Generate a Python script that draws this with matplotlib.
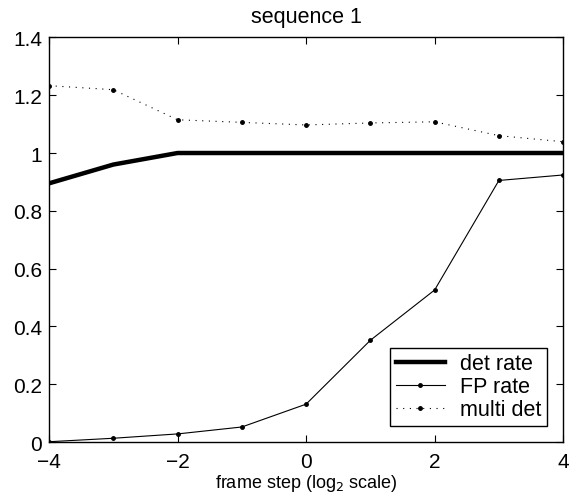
import matplotlib
matplotlib.use("Agg")
import matplotlib.pyplot as plt

# frame step on a log2 scale
steps = [-4, -3, -2, -1, 0, 1, 2, 3, 4]
det_rate = [0.895, 0.96, 1.0, 1.0, 1.0, 1.0, 1.0, 1.0, 1.0]
fp_rate = [0.001, 0.013, 0.028, 0.052, 0.131, 0.352, 0.526, 0.905, 0.924]
multi_det = [1.233, 1.219, 1.115, 1.106, 1.097, 1.104, 1.108, 1.06, 1.039]

x_ticks = [-4, -2, 0, 2, 4]
x_tick_labels = ['\u22124', '\u22122', '0', '2', '4']
y_ticks = [0, 0.2, 0.4, 0.6, 0.8, 1, 1.2, 1.4]
y_tick_labels = ['0', '0.2', '0.4', '0.6', '0.8', '1', '1.2', '1.4']


def get_picture():
    plt.rcParams['font.family'] = ['Liberation Sans', 'DejaVu Sans']
    fig = plt.figure(figsize=(5.7, 5.02), dpi=100)
    ax = fig.add_axes([0.086, 0.1175, 0.902, 0.806])

    ax.plot(steps, det_rate, color='black', linewidth=3.2, label='det rate')
    ax.plot(steps, fp_rate, color='black', linewidth=0.8, marker='o',
            markersize=2.5, label='FP rate')
    ax.plot(steps, multi_det, color='black', linewidth=0.8,
            linestyle=(0, (1, 5)), marker='o', markersize=2.5,
            label='multi det')

    ax.set_xlim(-4, 4)
    ax.set_ylim(0, 1.4)
    ax.set_xticks(x_ticks)
    ax.set_xticklabels(x_tick_labels)
    ax.set_yticks(y_ticks)
    ax.set_yticklabels(y_tick_labels)
    ax.tick_params(direction='in', top=True, right=True, labelsize=15,
                   length=5, width=0.8)
    ax.tick_params(axis='x', pad=7)
    ax.tick_params(axis='y', pad=5)
    for s in ax.spines.values():
        s.set_linewidth(1.0)

    ax.set_title('sequence 1', fontsize=15.5, pad=11)
    ax.set_xlabel('frame step (log$_2$ scale)', fontsize=13, labelpad=1)

    leg = ax.legend(loc='lower right', fontsize=15.5, frameon=True,
                    fancybox=False, edgecolor='black', framealpha=1,
                    borderaxespad=0.75, handlelength=2.3, labelspacing=0.1,
                    borderpad=0.25, handletextpad=0.7)
    leg.get_frame().set_linewidth(1.0)

    fig.savefig('out.png', dpi=100)


def main():
    get_picture()


if __name__ == "__main__":
    main()
